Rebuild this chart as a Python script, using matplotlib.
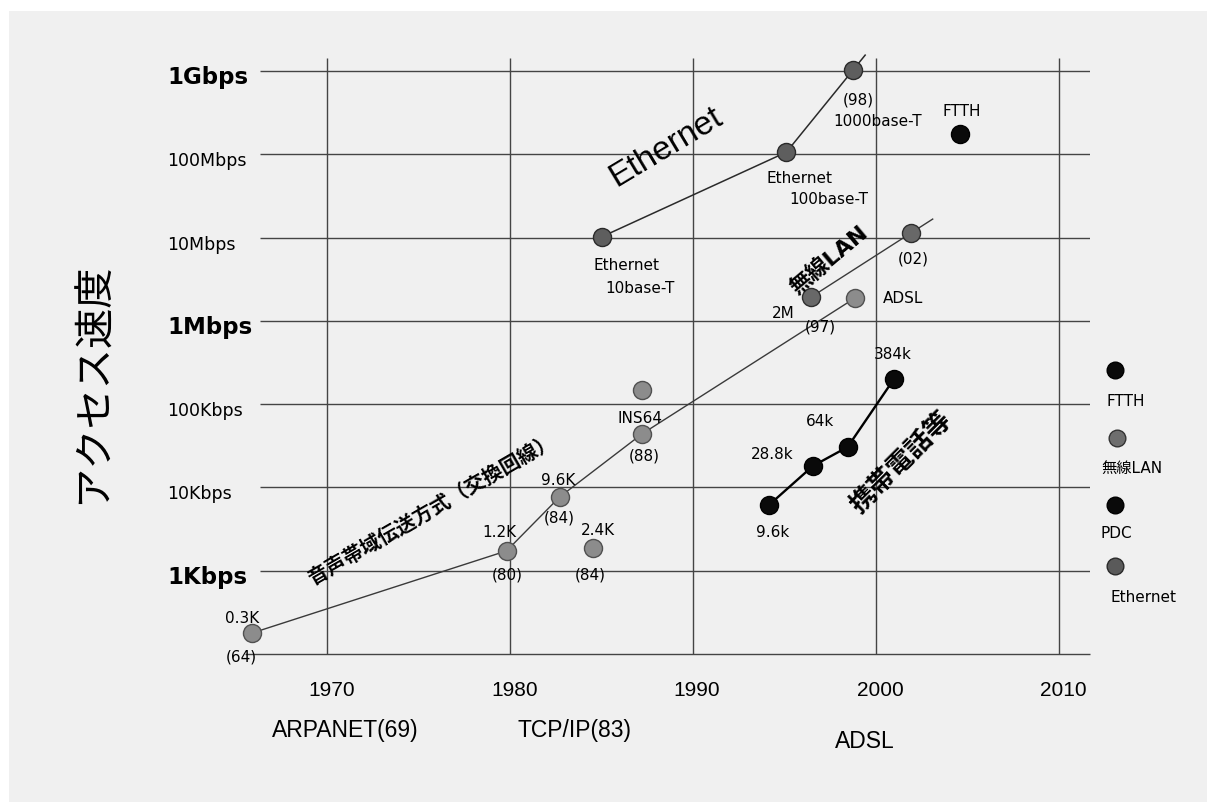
import math
import matplotlib
matplotlib.use("Agg")
import matplotlib.pyplot as plt
from matplotlib.lines import Line2D
from matplotlib.patches import Rectangle

plt.rcParams['font.family'] = ['DejaVu Sans', 'Noto Sans CJK JP']
LIB = ['Liberation Sans', 'Noto Sans CJK JP']

# ---------------- data ----------------
# voice-band (switched line) modems
phone_years = [1965.9, 1979.8, 1982.7, 1987.2, 1998.85]
phone_bps = [179, 1730, 7670, 43800, 1.88e6]
phone_top = ["0.3K", "1.2K", "9.6K", "INS64", None]
phone_bot = ["(64)", "(80)", "(84)", "(88)", None]

# isolated points
k24_year, k24_bps = 1984.5, 1875
ins_hi_year, ins_hi_bps = 1987.2, 1.48e5

# Ethernet
eth_years = [1985.0, 1995.1, 1998.75]
eth_bps = [1.02e7, 1.06e8, 1.03e9]

# wireless LAN
wlan_years = [1996.45, 2001.9]
wlan_bps = [1.93e6, 1.13e7]

# PDC (mobile phone)
pdc_years = [1994.15, 1996.55, 1998.45, 2000.98]
pdc_bps = [6150, 18100, 30600, 2.0e5]
pdc_labels = ["9.6k", "28.8k", "64k", "384k"]

# FTTH
ftth_year, ftth_bps = 2004.6, 1.75e8

# axes
ytick_vals = [1e9, 1e8, 1e7, 1e6, 1e5, 1e4, 1e3]
ytick_labels = ["1Gbps", "100Mbps", "10Mbps", "1Mbps", "100Kbps", "10Kbps", "1Kbps"]
ytick_bold = [True, False, False, True, False, False, True]
xtick_vals = [1970, 1980, 1990, 2000, 2010]
events = [("ARPANET(69)", 1971.0, 730), ("TCP/IP(83)", 1983.5, 730), ("ADSL", 1999.4, 742)]

legend_items = [("FTTH", '#0a0a0a', '#000000'), ("無線LAN", '#6e6e6e', '#333333'),
                ("PDC", '#0a0a0a', '#000000'), ("Ethernet", '#5a5a5a', '#2a2a2a')]

# ---------------- figure ----------------
W, H = 1207, 802
fig = plt.figure(figsize=(W / 100, H / 100), dpi=100)
fig.patch.set_facecolor('white')
fig.add_artist(Rectangle((9 / W, 0), 1, 1 - 11 / H, transform=fig.transFigure,
                         facecolor='#f0f0f0', edgecolor='none', zorder=-10))

def fx(x):
    return x / W

def fy(y):
    return 1 - y / H

ax = fig.add_axes([fx(245), fy(654), fx(1090) - fx(245), fy(58) - fy(654)])
ax.set_facecolor('none')
ax.set_yscale('log')
ax.set_xlim(1965.5, 2011.7)
ax.set_ylim(1e2, 10 ** 9.156)
for s in ax.spines.values():
    s.set_visible(False)
ax.set_xticks([])
ax.set_yticks([])
ax.minorticks_off()

grid_c = '#444444'
ax.hlines(ytick_vals, 1966.3, 2011.7, color=grid_c, lw=1.0, zorder=1)
ax.hlines([1e2], 1965.5, 2011.7, color=grid_c, lw=1.0, zorder=1, clip_on=False)
ax.vlines(xtick_vals, 1e2, 10 ** 9.156, color=grid_c, lw=1.0, zorder=1)

# y tick labels (left aligned)
for v, lab, b in zip(ytick_vals, ytick_labels, ytick_bold):
    ax.annotate(lab, xy=(0, v), xycoords=('figure fraction', 'data'),
                xytext=(167, -7), textcoords='offset pixels', ha='left', va='center',
                fontsize=16.5 if b else 12.5, fontweight='bold' if b else 'normal',
                annotation_clip=False)

# x tick labels
for yr in xtick_vals:
    ax.annotate(str(yr), xy=(yr, 0), xycoords=('data', 'figure fraction'),
                xytext=(4, H - 690), textcoords='offset pixels', ha='center', va='center',
                fontsize=15, family=LIB, annotation_clip=False)
for lab, yr, py in events:
    ax.annotate(lab, xy=(yr, 0), xycoords=('data', 'figure fraction'),
                xytext=(0, H - py), textcoords='offset pixels', ha='center', va='center',
                fontsize=16.5, family=LIB, annotation_clip=False)

fig.text(fx(93), fy(383), "アクセス速度", rotation=90, ha='center', va='center',
         fontsize=29, family=['Noto Sans CJK JP'])

# ---------------- series ----------------
gray_face, gray_edge = '#8c8c8c', '#505050'
ms = 13

def ext(xs, ys, t):
    x2 = xs[-1] + t * (xs[-1] - xs[-2])
    y2 = 10 ** (math.log10(ys[-1]) + t * (math.log10(ys[-1]) - math.log10(ys[-2])))
    return x2, y2

# voice-band line
ax.plot(phone_years, phone_bps, color='#3a3a3a', lw=1.0, zorder=2, clip_on=False)
ax.plot(phone_years, phone_bps, 'o', ms=ms, mfc=gray_face, mec=gray_edge, mew=1.0,
        zorder=4, clip_on=False)
ax.plot([k24_year, ins_hi_year], [k24_bps, ins_hi_bps], 'o', ms=ms, mfc=gray_face,
        mec=gray_edge, mew=1.0, zorder=4)

ann_kw = dict(textcoords='offset pixels', ha='center', va='center', fontsize=11,
              annotation_clip=False, zorder=6)
top_off = [(-10, 14), (-7, 18), (-1, 17), (-2, 16)]
bot_off = [(-11, -24), (1, -24), (0, -21), (2, -22)]
for i in range(4):
    ax.annotate(phone_top[i], xy=(phone_years[i], phone_bps[i]), xytext=top_off[i], **ann_kw)
    ax.annotate(phone_bot[i], xy=(phone_years[i], phone_bps[i]), xytext=bot_off[i], **ann_kw)
ax.annotate("2.4K", xy=(k24_year, k24_bps), xytext=(5, 17), **ann_kw)
ax.annotate("(84)", xy=(k24_year, k24_bps), xytext=(-2, -27), **ann_kw)
ax.annotate("ADSL", xy=(phone_years[-1], phone_bps[-1]), xytext=(28, 0),
            textcoords='offset pixels', ha='left', va='center', fontsize=11, zorder=6)

# Ethernet
ex, ey = ext(eth_years, eth_bps, 0.18)
ax.plot(eth_years + [ex], eth_bps + [ey], color='#2a2a2a', lw=1.1, zorder=2, clip_on=False)
ax.plot(eth_years, eth_bps, 'o', ms=ms, mfc='#5e5e5e', mec='#2a2a2a', mew=1.0,
        zorder=4, clip_on=False)
ax.annotate("Ethernet", xy=(eth_years[0], eth_bps[0]), xytext=(25, -29), **ann_kw)
ax.annotate("10base-T", xy=(eth_years[0], eth_bps[0]), xytext=(38, -52), **ann_kw)
ax.annotate("Ethernet", xy=(eth_years[1], eth_bps[1]), xytext=(13, -26), **ann_kw)
ax.annotate("100base-T", xy=(eth_years[1], eth_bps[1]), xytext=(42, -47), **ann_kw)
ax.annotate("(98)", xy=(eth_years[2], eth_bps[2]), xytext=(5, -30), **ann_kw)
ax.annotate("1000base-T", xy=(eth_years[2], eth_bps[2]), xytext=(24, -52), **ann_kw)

# wireless LAN
wx, wy = ext(wlan_years, wlan_bps, 0.22)
ax.plot(wlan_years + [wx], wlan_bps + [wy], color='#3a3a3a', lw=1.0, zorder=2)
ax.plot(wlan_years, wlan_bps, 'o', ms=ms, mfc='#686868', mec='#2e2e2e', mew=1.0, zorder=4)
ax.annotate("2M", xy=(wlan_years[0], wlan_bps[0]), xytext=(-28, -16), **ann_kw)
ax.annotate("(97)", xy=(wlan_years[0], wlan_bps[0]), xytext=(9, -30), **ann_kw)
ax.annotate("(02)", xy=(wlan_years[1], wlan_bps[1]), xytext=(2, -26), **ann_kw)

# PDC
ax.plot(pdc_years, pdc_bps, color='#000000', lw=1.7, zorder=3)
ax.plot(pdc_years, pdc_bps, 'o', ms=ms, mfc='#0a0a0a', mec='#000000', zorder=4)
pdc_off = [(4, -27), (-41, 11), (-28, 25), (-1, 25)]
for x, y, lab, off in zip(pdc_years, pdc_bps, pdc_labels, pdc_off):
    ax.annotate(lab, xy=(x, y), xytext=off, **ann_kw)

# FTTH
ax.plot([ftth_year], [ftth_bps], 'o', ms=ms, mfc='#0a0a0a', mec='#000000', zorder=4)
ax.annotate("FTTH", xy=(ftth_year, ftth_bps), xytext=(2, 23), **ann_kw)

# rotated category labels
ax.text(1988.5, 1.22e8, "Ethernet", rotation=31, rotation_mode='anchor', ha='center',
        va='center', fontsize=24, family=LIB, zorder=6)
ax.text(1997.4, 5.4e6, "無線LAN", rotation=40, rotation_mode='anchor', ha='center',
        va='center', fontsize=16, fontweight='bold', zorder=6)
ax.text(2001.4, 1.96e4, "携帯電話等", rotation=45, rotation_mode='anchor', ha='center',
        va='center', fontsize=19, fontweight='bold', zorder=6)
ax.text(1975.7, 5350, "音声帯域伝送方式（交換回線）", rotation=30, rotation_mode='anchor',
        ha='center', va='center', fontsize=14.5, fontweight='bold', zorder=6)

# ---------------- side legend ----------------
leg_dots = [(1115, 370), (1117, 438), (1115, 505), (1115, 566)]
leg_text = [(1106, 401), (1101, 468), (1101, 534), (1110, 597)]
for (lab, fc, ec), (dx, dy), (tx, ty) in zip(legend_items, leg_dots, leg_text):
    fig.lines.append(Line2D([fx(dx)], [fy(dy)], marker='o', ms=12, mfc=fc, mec=ec,
                            transform=fig.transFigure, linestyle='none'))
    fig.text(fx(tx), fy(ty), lab, ha='left', va='center', fontsize=11)

fig.savefig("out.png", dpi=100, facecolor=fig.get_facecolor())
